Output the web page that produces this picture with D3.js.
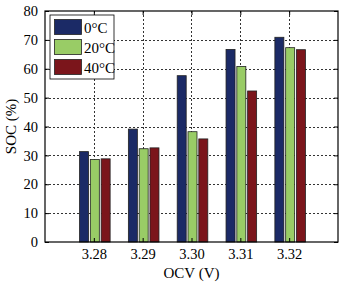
<!DOCTYPE html>
<html><head><meta charset="utf-8">
<script src="https://cdn.jsdelivr.net/npm/d3@7"></script>
<style>body{margin:0;background:#fff}svg{display:block}</style>
</head><body>
<svg id="c" width="341" height="285"></svg>
<script>
const categories = [3.28, 3.29, 3.30, 3.31, 3.32];
const categoryLabels = ["3.28", "3.29", "3.30", "3.31", "3.32"];
const seriesNames = ["0°C", "20°C", "40°C"];
const soc0 = [31.3, 39.1, 57.6, 66.7, 70.9];
const soc20 = [28.6, 32.3, 38.2, 60.8, 67.3];
const soc40 = [28.8, 32.6, 35.7, 52.3, 66.6];
const seriesColors = ["#1b2a66", "#99cc66", "#7b151b"];
const yTicks = [0, 10, 20, 30, 40, 50, 60, 70, 80];

const series = [soc0, soc20, soc40];
const svg = d3.select("#c");
const L = 45, R = 338, T = 11, B = 242;
const x = d3.scaleLinear().domain([3.27, 3.33]).range([L, R]);
const y = d3.scaleLinear().domain([0, 80]).range([B, T]);
const font = "'Liberation Serif', 'Times New Roman', serif";

// grid
const g = svg.append("g");
g.selectAll("line.gy").data(yTicks.slice(1, -1)).enter().append("line")
  .attr("x1", L).attr("x2", R).attr("y1", d => Math.round(y(d)) + 0.5).attr("y2", d => Math.round(y(d)) + 0.5)
  .attr("stroke", "#333").attr("stroke-width", 1).attr("stroke-dasharray", "2,2");
g.selectAll("line.gx").data(categories).enter().append("line")
  .attr("y1", T).attr("y2", B).attr("x1", d => Math.round(x(d)) + 0.5).attr("x2", d => Math.round(x(d)) + 0.5)
  .attr("stroke", "#333").attr("stroke-width", 1).attr("stroke-dasharray", "2,2");

// bars
const bw = 9, step = 10.8;
series.forEach((vals, si) => {
  svg.append("g").selectAll("rect").data(vals).enter().append("rect")
    .attr("x", (d, i) => x(categories[i]) + 1 + (si - 1) * step - bw / 2)
    .attr("y", d => y(d))
    .attr("width", bw)
    .attr("height", d => B - y(d))
    .attr("fill", seriesColors[si])
    .attr("stroke", "#222").attr("stroke-width", 0.8);
});

// frame
svg.append("rect").attr("x", L).attr("y", T).attr("width", R - L).attr("height", B - T)
  .attr("fill", "none").attr("stroke", "#000").attr("stroke-width", 1.2);

// axes with inward ticks
const yAxisL = d3.axisLeft(y).tickValues(yTicks).tickSize(-4).tickPadding(7).tickFormat(d3.format("d"));
const yAxisR = d3.axisRight(y).tickValues(yTicks).tickSize(-4).tickFormat("");
const xAxisB = d3.axisBottom(x).tickValues(categories).tickSize(-4).tickPadding(7).tickFormat((d, i) => categoryLabels[i]);
const xAxisT = d3.axisTop(x).tickValues(categories).tickSize(-4).tickFormat("");
function style(sel) {
  sel.select(".domain").remove();
  sel.selectAll("line").attr("stroke", "#000");
  sel.selectAll("text").attr("font-family", font).attr("font-size", 14.5).attr("fill", "#000");
}
svg.append("g").attr("transform", `translate(${L},0)`).call(yAxisL).call(style);
svg.append("g").attr("transform", `translate(${R},0)`).call(yAxisR).call(style);
svg.append("g").attr("transform", `translate(0,${B})`).call(xAxisB).call(style);
svg.append("g").attr("transform", `translate(0,${T})`).call(xAxisT).call(style);

// labels
svg.append("text").attr("x", (L + R) / 2).attr("y", 278).attr("text-anchor", "middle")
  .attr("font-family", font).attr("font-size", 15).text("OCV (V)");
svg.append("text").attr("transform", `translate(16,${(T + B) / 2}) rotate(-90)`).attr("text-anchor", "middle")
  .attr("font-family", font).attr("font-size", 15).text("SOC (%)");

// legend
const lg = svg.append("g");
lg.append("rect").attr("x", 50).attr("y", 15).attr("width", 64).attr("height", 64)
  .attr("fill", "#fff").attr("stroke", "#000").attr("stroke-width", 0.8);
seriesNames.forEach((n, i) => {
  lg.append("rect").attr("x", 54.5).attr("y", 19.5 + i * 20).attr("width", 27).attr("height", 15)
    .attr("fill", seriesColors[i]).attr("stroke", "#222").attr("stroke-width", 0.8);
  lg.append("text").attr("x", 84).attr("y", 32.5 + i * 20)
    .attr("font-family", font).attr("font-size", 15).text(n);
});
</script>
</body></html>
